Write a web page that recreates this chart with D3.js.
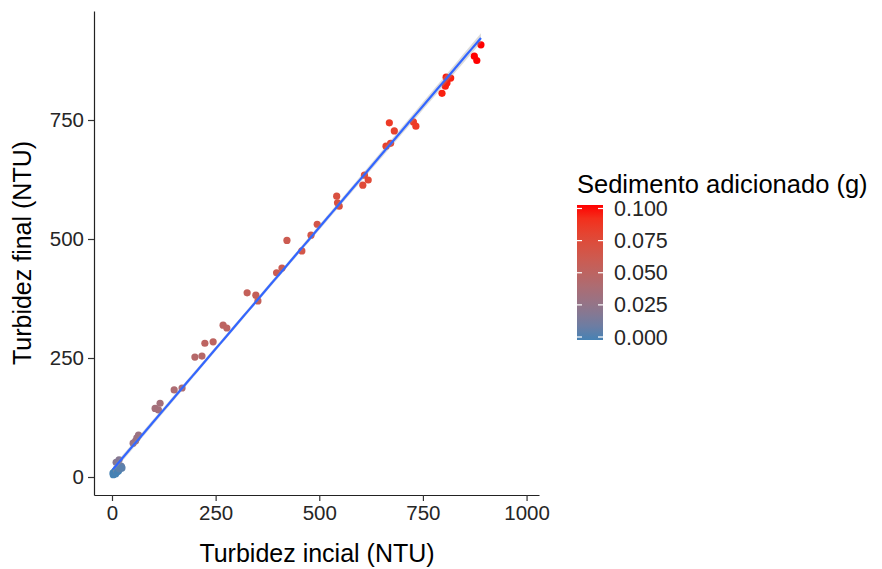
<!DOCTYPE html>
<html lang="pt">
<head>
<meta charset="utf-8">
<title>Turbidez</title>
<script src="https://cdn.jsdelivr.net/npm/d3@7"></script>
<style>
  body { margin: 0; background: #fff; }
  text { font-family: "Liberation Sans", Arial, sans-serif; }
</style>
</head>
<body>
<script>
// data
var turbInicial = [2.4, 5, 7, 12, 14.5, 17, 19, 22,
  3, 4, 6, 8, 9, 11, 13, 15, 16, 18, 20, 21, 23, 24,
  10, 17, 51, 57, 60, 64, 104, 112, 116,
  150, 169, 200, 217, 224, 244, 268, 277, 326, 347, 352, 397, 410, 422, 458, 480, 495,
  542, 544, 548, 605, 609, 618, 661, 672, 669, 681, 727, 733, 796, 804, 808, 806, 817,
  874, 880, 890];
var turbFinal = [8.4, 6, 12.6, 16.8, 14.7, 21, 19, 23,
  5, 9, 8, 10, 7, 12, 11, 16, 13, 17, 18, 20, 21, 19,
  31, 36, 71, 76, 82, 88, 144, 141, 155,
  183, 187, 252, 254, 281, 284, 319, 313, 387, 382, 370, 429, 439, 497, 475, 508, 531,
  590, 576, 569, 613, 634, 624, 695, 701, 744, 727, 746, 737, 806, 821, 828, 840, 838,
  884, 875, 908];
var sedimento = [0, 0, 0, 0.005, 0, 0.005, 0.005, 0.01,
  0, 0, 0, 0, 0, 0.005, 0, 0.005, 0, 0.005, 0.005, 0.005, 0.01, 0.005,
  0.02, 0.02, 0.03, 0.03, 0.03, 0.03, 0.035, 0.035, 0.035,
  0.04, 0.04, 0.045, 0.045, 0.05, 0.05, 0.05, 0.05, 0.055, 0.055, 0.055,
  0.06, 0.06, 0.06, 0.065, 0.065, 0.065, 0.07, 0.07, 0.07, 0.075, 0.075, 0.075,
  0.08, 0.08, 0.085, 0.08, 0.085, 0.085, 0.095, 0.095, 0.095, 0.095, 0.095, 0.1, 0.1, 0.1];
var xTicks = [0, 250, 500, 750, 1000];
var yTicks = [0, 250, 500, 750];
var legendTicks = [0, 0.025, 0.05, 0.075, 0.1];

var w = 882, h = 569;
var svg = d3.select("body").append("svg").attr("width", w).attr("height", h);

var x = d3.scaleLinear().domain([-43.4, 1030]).range([94, 539]);
var y = d3.scaleLinear().domain([-37.8, 979]).range([495, 11]);
var color = d3.scaleLinear().domain([0, 0.1]).range(["steelblue", "red"])
  .interpolate(d3.interpolateLab);

var pts = turbInicial.map(function(d, i) {
  return { x: d, y: turbFinal[i], s: sedimento[i] };
});

// linear fit (geom_smooth method = lm)
var n = pts.length;
var mx = d3.mean(pts, function(d) { return d.x; });
var my = d3.mean(pts, function(d) { return d.y; });
var sxx = d3.sum(pts, function(d) { return (d.x - mx) * (d.x - mx); });
var sxy = d3.sum(pts, function(d) { return (d.x - mx) * (d.y - my); });
var b = sxy / sxx, a = my - b * mx;
var sres = Math.sqrt(d3.sum(pts, function(d) { var r = d.y - a - b * d.x; return r * r; }) / (n - 2));
var x0 = d3.min(turbInicial), x1 = d3.max(turbInicial);
var xs = d3.range(80).map(function(i) { return x0 + (x1 - x0) * i / 79; });
var band = xs.map(function(v) {
  var se = sres * Math.sqrt(1 / n + (v - mx) * (v - mx) / sxx) * 2.0;
  return { x: v, y: a + b * v, lo: a + b * v - se, hi: a + b * v + se };
});

// points
svg.append("g").selectAll("circle")
  .data(pts)
  .enter()
  .append("circle")
  .attr("cx", function(d) { return x(d.x); })
  .attr("cy", function(d) { return y(d.y); })
  .attr("r", 3.6)
  .attr("fill", function(d) { return color(d.s); });

svg.append("path")
  .datum(band)
  .attr("fill", "#999")
  .attr("opacity", 0.35)
  .attr("d", d3.area()
    .x(function(d) { return x(d.x); })
    .y0(function(d) { return y(d.lo); })
    .y1(function(d) { return y(d.hi); }));

svg.append("path")
  .datum(band)
  .attr("fill", "none")
  .attr("stroke", "#3366FF")
  .attr("stroke-width", 2.2)
  .attr("d", d3.line()
    .x(function(d) { return x(d.x); })
    .y(function(d) { return y(d.y); }));

// axes
var xAxis = svg.append("g")
  .attr("transform", "translate(0,495)")
  .call(d3.axisBottom(x).tickValues(xTicks).tickFormat(d3.format("d"))
    .tickSize(6).tickSizeOuter(0).tickPadding(4));
var yAxis = svg.append("g")
  .attr("transform", "translate(94,0)")
  .call(d3.axisLeft(y).tickValues(yTicks).tickFormat(d3.format("d"))
    .tickSize(6).tickSizeOuter(0).tickPadding(4));

[xAxis, yAxis].forEach(function(g) {
  g.select(".domain").attr("stroke", "#222").attr("stroke-width", 1.2);
  g.selectAll(".tick line").attr("stroke", "#333").attr("stroke-width", 1.2);
  g.selectAll(".tick text")
    .attr("font-family", "Liberation Sans, Arial, sans-serif")
    .attr("font-size", "20.5px")
    .attr("fill", "#262626");
});

svg.append("text")
  .attr("x", 317).attr("y", 562)
  .attr("text-anchor", "middle")
  .attr("font-size", "25px")
  .attr("fill", "#000")
  .text("Turbidez incial (NTU)");

svg.append("text")
  .attr("transform", "translate(31,253) rotate(-90)")
  .attr("text-anchor", "middle")
  .attr("font-size", "25px")
  .attr("fill", "#000")
  .text("Turbidez final (NTU)");

// colour bar legend
var leg = svg.append("g");
leg.append("text")
  .attr("x", 577).attr("y", 193)
  .attr("font-size", "25.5px")
  .attr("fill", "#000")
  .text("Sedimento adicionado (g)");

var defs = svg.append("defs");
var grad = defs.append("linearGradient")
  .attr("id", "sedgrad")
  .attr("x1", 0).attr("y1", 1).attr("x2", 0).attr("y2", 0);
d3.range(11).forEach(function(i) {
  grad.append("stop")
    .attr("offset", i / 10)
    .attr("stop-color", color(0.1 * i / 10));
});

var ly = d3.scaleLinear().domain([0, 0.1]).range([337, 208.5]);
leg.append("rect")
  .attr("x", 577).attr("y", 205)
  .attr("width", 26).attr("height", 135)
  .attr("fill", "url(#sedgrad)");

leg.selectAll("line.lt")
  .data(legendTicks)
  .enter()
  .append("line")
  .attr("x1", 577).attr("x2", 582)
  .attr("y1", function(d) { return ly(d); })
  .attr("y2", function(d) { return ly(d); })
  .attr("stroke", "#fff").attr("stroke-width", 1.2);
leg.selectAll("line.rt")
  .data(legendTicks)
  .enter()
  .append("line")
  .attr("x1", 598).attr("x2", 603)
  .attr("y1", function(d) { return ly(d); })
  .attr("y2", function(d) { return ly(d); })
  .attr("stroke", "#fff").attr("stroke-width", 1.2);

leg.selectAll("text.lab")
  .data(legendTicks)
  .enter()
  .append("text")
  .attr("x", 614)
  .attr("y", function(d) { return ly(d) + 7.5; })
  .attr("font-size", "21.5px")
  .attr("fill", "#262626")
  .text(function(d) { return d3.format(".3f")(d); });
</script>
</body>
</html>
